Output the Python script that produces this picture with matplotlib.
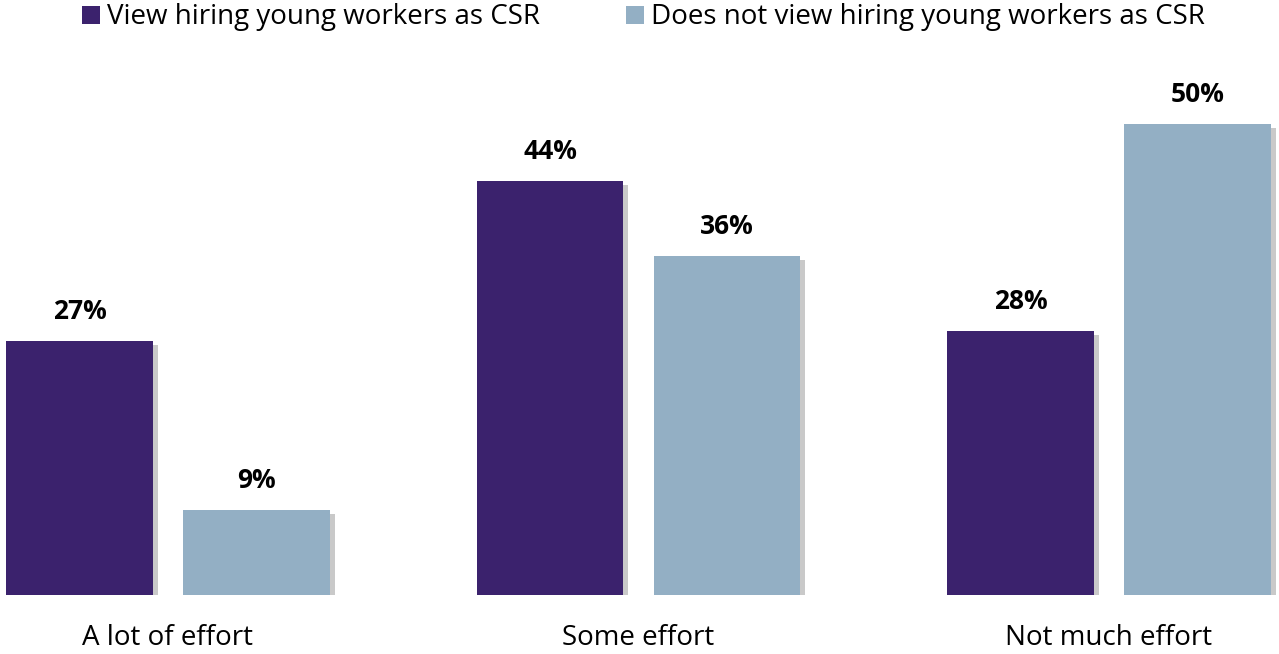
import matplotlib
matplotlib.use("Agg")
import matplotlib.pyplot as plt
import matplotlib.patheffects as pe
from matplotlib.patches import Rectangle
import numpy as np

categories = ["A lot of effort", "Some effort", "Not much effort"]
view_csr = [27, 44, 28]
not_view_csr = [9, 36, 50]
series_names = ["View hiring young workers as CSR", "Does not view hiring young workers as CSR"]
colors = ["#3b226d", "#93afc4"]

plt.rcParams['font.family'] = ['Open Sans', 'DejaVu Sans']

W, H = 1279, 654
fig = plt.figure(figsize=(W / 100, H / 100), dpi=100)

# axes: bottom at px 595, top at px 80
bottom_px, top_px = 595, 80
ax = fig.add_axes([0, 1 - bottom_px / H, 1, (bottom_px - top_px) / H])
px_per_unit = 471 / 50
ax.set_ylim(0, (bottom_px - top_px) / px_per_unit)
ax.set_xlim((0 - 168) / 470.5, (W - 168) / 470.5)
ax.axis('off')

x = np.arange(len(categories))
width = 0.312
off = 0.188
shadow = [pe.SimplePatchShadow(offset=(3.5, -3), shadow_rgbFace='#7a7a7a', alpha=0.4), pe.Normal()]

for vals, dx, c in [(view_csr, -off, colors[0]), (not_view_csr, off, colors[1])]:
    ax.bar(x + dx, vals, width, color=c, path_effects=shadow)
    for xi, v in zip(x + dx, vals):
        ax.text(xi, v + 22 / px_per_unit, f"{v}%", ha='center', va='baseline', fontsize=19,
                fontweight='bold', color='black')

for xi, cat in zip(x, categories):
    ax.text(xi, -50 / px_per_unit, cat, ha='center', va='baseline', fontsize=20, color='black')

# legend at top
leg_items = [(82, series_names[0], colors[0]), (626, series_names[1], colors[1])]
for px, name, c in leg_items:
    fig.patches.append(Rectangle((px / W, 1 - 24 / H), 18 / W, 18 / H, transform=fig.transFigure,
                                 facecolor=c, edgecolor='none'))
    fig.text((px + 25) / W, 1 - 24 / H, name, ha='left', va='baseline', fontsize=20, color='black')

fig.savefig("out.png", dpi=100)
